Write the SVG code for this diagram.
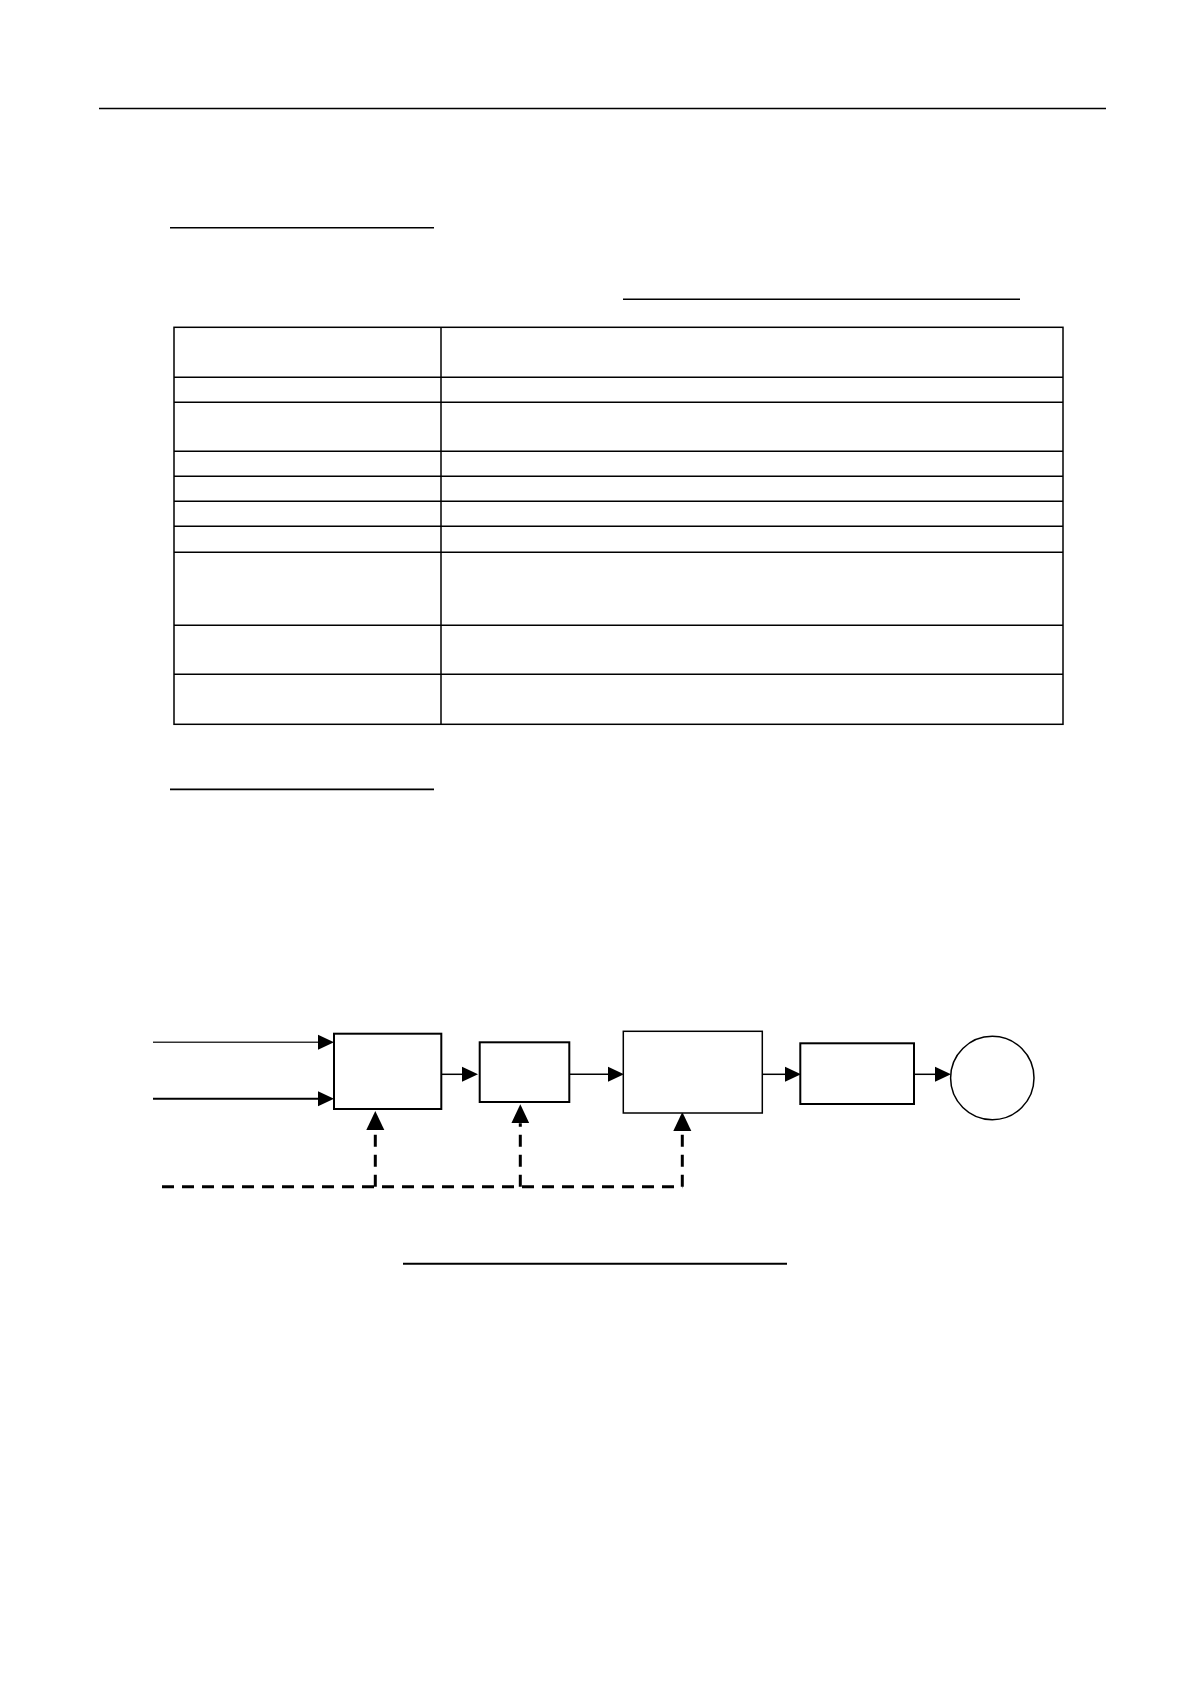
<svg xmlns="http://www.w3.org/2000/svg" width="1190" height="1684" viewBox="0 0 1190 1684">
<style>
.rule{stroke:#000;stroke-width:1.6;fill:none}
.grid{stroke:#000;stroke-width:1.5;fill:none}
.box{fill:#fff;stroke:#000;stroke-width:2}
.box-thin{fill:#fff;stroke:#000;stroke-width:1.5}
.flow{stroke:#000;stroke-width:1.5;fill:none;marker-end:url(#arr)}
.ctrl{stroke:#000;stroke-width:3;fill:none;stroke-dasharray:12 8}
.ctrl-up{stroke:#000;stroke-width:3;fill:none;stroke-dasharray:12 8;marker-end:url(#arrBig)}
</style>
<defs>
<marker id="arr" markerUnits="userSpaceOnUse" markerWidth="16" markerHeight="16" refX="0" refY="7.5" orient="auto" viewBox="0 0 16 15">
<path d="M0,0 L16,7.5 L0,15 z" fill="#000"/>
</marker>
<marker id="arrBig" markerUnits="userSpaceOnUse" markerWidth="19" markerHeight="19" refX="0" refY="9" orient="auto" viewBox="0 0 19 18">
<path d="M0,0 L19,9 L0,18 z" fill="#000"/>
</marker>
</defs>
<rect width="1190" height="1684" fill="#fff"/>
<g id="page-rules">
<line class="rule" x1="99" y1="108.5" x2="1106" y2="108.5"/>
<line class="rule" x1="170" y1="227.7" x2="434" y2="227.7"/>
<line class="rule" x1="623" y1="299.3" x2="1020" y2="299.3"/>
<line class="rule" x1="170" y1="789.4" x2="434" y2="789.4"/>
<line class="rule" x1="403" y1="1263.7" x2="787" y2="1263.7" style="stroke-width:2"/>
</g>
<g id="table">
<rect class="grid" x="174" y="327.3" width="889" height="397"/>
<line class="grid" x1="441" y1="327.3" x2="441" y2="724.3"/>
<line class="grid" x1="174" y1="377.3" x2="1063" y2="377.3"/>
<line class="grid" x1="174" y1="402.3" x2="1063" y2="402.3"/>
<line class="grid" x1="174" y1="451.3" x2="1063" y2="451.3"/>
<line class="grid" x1="174" y1="476.3" x2="1063" y2="476.3"/>
<line class="grid" x1="174" y1="501.3" x2="1063" y2="501.3"/>
<line class="grid" x1="174" y1="526.3" x2="1063" y2="526.3"/>
<line class="grid" x1="174" y1="552.3" x2="1063" y2="552.3"/>
<line class="grid" x1="174" y1="625.3" x2="1063" y2="625.3"/>
<line class="grid" x1="174" y1="674.3" x2="1063" y2="674.3"/>
</g>
<g id="connectors">
<line class="flow" x1="153" y1="1042.3" x2="318" y2="1042.3" style="stroke:#333"/>
<line class="flow" x1="153" y1="1098.7" x2="318" y2="1098.7" style="stroke-width:2"/>
<line class="flow" x1="441" y1="1074.3" x2="462" y2="1074.3"/>
<line class="flow" x1="569" y1="1074.3" x2="608" y2="1074.3"/>
<line class="flow" x1="762" y1="1074.3" x2="785" y2="1074.3"/>
<line class="flow" x1="914" y1="1074.3" x2="935" y2="1074.3"/>
<path class="ctrl" d="M162,1186.7 H682.3"/>
<path class="ctrl-up" d="M682.3,1186.7 V1131"/>
<path class="ctrl-up" d="M375.3,1186.7 V1130"/>
<path class="ctrl-up" d="M520.3,1186.7 V1123.3"/>
</g>
<g id="node-a"><rect class="box" x="334" y="1033.7" width="107.3" height="75.3"/></g>
<g id="node-b"><rect class="box" x="479.7" y="1042.3" width="89.6" height="59.7"/></g>
<g id="node-c"><rect class="box-thin" x="623.3" y="1031.3" width="139" height="81.7"/></g>
<g id="node-d"><rect class="box" x="800.3" y="1043.3" width="113.7" height="60.7"/></g>
<g id="node-e"><circle class="box-thin" cx="992.3" cy="1078" r="41.7"/></g>
</svg>
